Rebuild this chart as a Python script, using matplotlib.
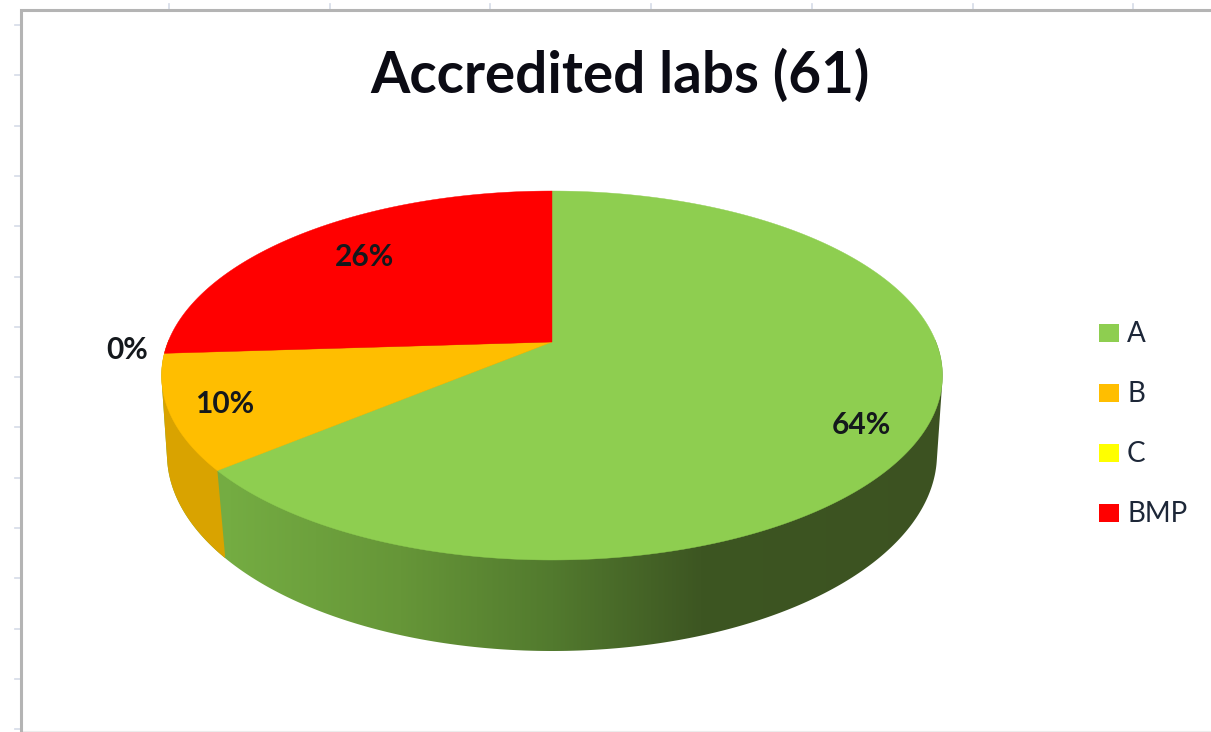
"""Accredited labs pie, drawn as a tilted 3D disc on a pixel-sized canvas."""

import numpy as np
import matplotlib

matplotlib.use("Agg")
matplotlib.rcParams["font.family"] = ["Lato", "DejaVu Sans"]
import matplotlib.pyplot as plt
from matplotlib.patches import Polygon, Rectangle

title = "Accredited labs (61)"
categories = ["A", "B", "C", "BMP"]
shares = [64, 10, 0, 26]
colors = ["#8ECE50", "#FFBE00", "#FFFF00", "#FF0000"]
share_labels = ["64%", "10%", "0%", "26%"]

W, H = 1211, 732
CX = 552


def top_face(theta):
    # perspective view of the unit disc, theta clockwise from 12 o'clock
    u, v = np.sin(theta), -np.cos(theta)
    w = 1 - 0.1816 * v
    return CX + 384 * u / w, (342 + 116.3 * v) / w


def hull(points):
    pts = sorted(set(map(tuple, np.round(points, 2))))

    def half(seq):
        out = []
        for p in seq:
            while len(out) > 1 and (
                (out[-1][0] - out[-2][0]) * (p[1] - out[-2][1])
                - (out[-1][1] - out[-2][1]) * (p[0] - out[-2][0])
            ) <= 0:
                out.pop()
            out.append(p)
        return out[:-1]

    return np.array(half(pts) + half(pts[::-1]))


fig = plt.figure(figsize=(W / 100, H / 100), dpi=100)
ax = fig.add_axes([0, 0, 1, 1])
ax.set_axis_off()

# sheet frame and its small cell ticks
for x in np.arange(169, W, 160.7):
    ax.plot([x, x], [4, 10], color="#d5dbe8", lw=1.2)
for y in np.arange(25, H, 50.3):
    ax.plot([15, 21], [y, y], color="#d5dbe8", lw=1.2)
ax.plot([21, W], [730.5, 730.5], color="#ececec", lw=0.8)
ax.plot([21, 21, W], [H, 10, 10], color="#b4b4b4", lw=2.2, solid_joinstyle="miter")

# side wall
t = np.linspace(0, 2 * np.pi, 720)
tx, ty = top_face(t)
bx, by = CX + 385 * np.sin(t), 454 - 197 * np.cos(t)
wall = Polygon(
    hull(np.r_[np.c_[tx, ty], np.c_[bx[by > 440], by[by > 440]]]),
    closed=True, facecolor="none", edgecolor="none",
)
ax.add_patch(wall)

stops_x = [160, 230, 400, 552, 700, 950]
stops_rgb = np.array([
    [118, 174, 66], [116, 172, 66], [102, 150, 56],
    [82, 122, 46], [61, 86, 34], [60, 82, 33],
]) / 255
xs = np.arange(160, 950)
band = np.stack([np.interp(xs, stops_x, stops_rgb[:, i]) for i in range(3)], axis=-1)
img = ax.imshow(band[None, :, :], extent=(160, 950, 660, 340), aspect="auto", zorder=2)
img.set_clip_path(wall)

# B wall, left of the seam under the A/B edge
seam_angle = 2 * np.pi * shares[0] / sum(shares)
sx, sy = top_face(seam_angle)
orange_wall = Polygon(
    [(140, 340), (sx, 340), (sx, sy), (225, 555), (225, 660), (140, 660)],
    closed=True, facecolor="#D9A300", edgecolor="none", zorder=3,
)
ax.add_patch(orange_wall)
orange_wall.set_clip_path(wall)

# top face
start = 0.0
for share, color in zip(shares, colors):
    if share > 0:
        stop = start + 2 * np.pi * share / sum(shares)
        a = np.linspace(start, stop, 300)
        ex, ey = top_face(a)
        ax.add_patch(Polygon(
            np.c_[np.r_[CX, ex], np.r_[342, ey]],
            closed=True, facecolor=color, edgecolor=color, lw=0.3, zorder=4,
        ))
        start = stop

ax.text(620, 76, title, ha="center", va="center", fontsize=40.8, fontweight="bold",
        color="#0b0b14", zorder=6)

label_spots = [(861, 425), (225, 404), (127, 350), (365, 257)]
for text, (x, y) in zip(share_labels, label_spots):
    ax.text(x, y, text, ha="center", va="center", fontsize=21.5, fontweight="bold",
            color="#14181c", zorder=6)

# legend
for i, (name, color) in enumerate(zip(categories, colors)):
    y = 332.5 + 60.3 * i
    ax.add_patch(Rectangle((1099, y - 9), 20, 18, facecolor=color, edgecolor="none"))
    ax.text(1127, y + 1, name, ha="left", va="center", fontsize=20,
            color="#1d2738", zorder=6)

ax.set_xlim(0, W)
ax.set_ylim(H, 0)
fig.savefig("out.png", dpi=100, facecolor="white")
